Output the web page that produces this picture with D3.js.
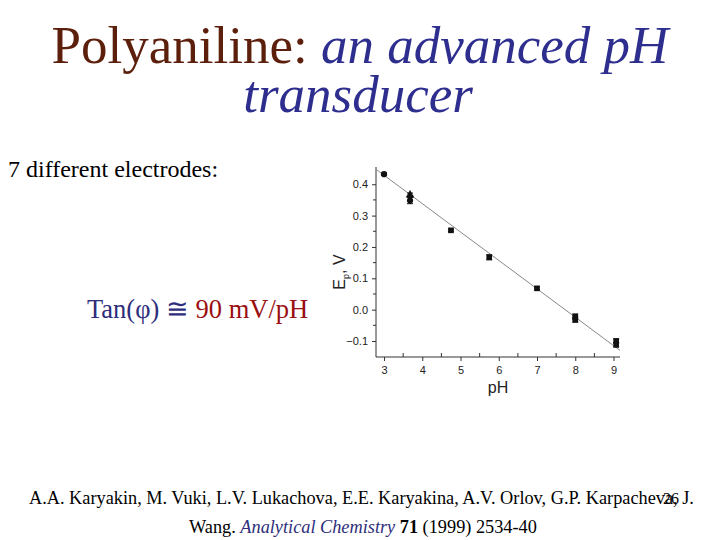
<!DOCTYPE html>
<html><head><meta charset="utf-8">
<script src="https://cdn.jsdelivr.net/npm/d3@7"></script>
<style>body{margin:0;background:#fff}svg{display:block}</style>
</head><body>
<svg id="c" width="720" height="540"></svg>
<script>
// ---- data ----
const pointPH    = [3.0, 3.68, 3.68, 4.75, 5.75, 7.0, 8.0, 8.0, 9.07, 9.07];
const pointE     = [0.432, 0.366, 0.348, 0.253, 0.167, 0.068, -0.022, -0.032, -0.100, -0.112];
const pointErr   = [0.004, 0.006, 0.010, 0.004, 0.008, 0.004, 0.008, 0.008, 0.007, 0.007];
const pointShape = ["circle","triangle","circle","square","square","square","square","square","square","square"];
const fitPH = [2.81, 9.17];
const fitE  = [0.446, -0.130];
const xTicks = [3, 4, 5, 6, 7, 8, 9];
const yTicks = [-0.1, 0.0, 0.1, 0.2, 0.3, 0.4];
const xMinorTicks = [3.5, 4.5, 5.5, 6.5, 7.5, 8.5];
const yMinorTicks = [-0.05, 0.05, 0.15, 0.25, 0.35];

const svg = d3.select("#c");
const serif = "'Liberation Serif','Times New Roman',serif";
const sans = "'Liberation Sans',Arial,sans-serif";

// ---- title ----
const t1 = svg.append("text").attr("x", 360).attr("y", 63).attr("text-anchor","middle")
  .attr("font-family", serif).attr("font-size", 53);
t1.append("tspan").attr("fill","#5c1f0c").text("Polyaniline: ");
t1.append("tspan").attr("fill","#2e2e8f").attr("font-style","italic").text("an advanced pH");
svg.append("text").attr("x", 358).attr("y", 112).attr("text-anchor","middle")
  .attr("font-family", serif).attr("font-size", 53).attr("font-style","italic")
  .attr("fill","#2e2e8f").text("transducer");

svg.append("text").attr("x", 8).attr("y", 177).attr("font-family", serif)
  .attr("font-size", 24).attr("fill","#000").text("7 different electrodes:");

const tn = svg.append("text").attr("x", 87).attr("y", 318).attr("font-family", serif).attr("font-size", 26.5);
tn.append("tspan").attr("fill","#2e2e7a").text("Tan(φ) ≅ ");
tn.append("tspan").attr("fill","#9a0f0f").text("90 mV/pH");

// ---- footer ----
const f1 = svg.append("text").attr("x", 29).attr("y", 504).attr("font-family", serif).attr("font-size", 18.3).attr("fill","#000");
f1.text("A.A. Karyakin, M. Vuki, L.V. Lukachova, E.E. Karyakina, A.V. Orlov, G.P. Karpacheva, J.");
svg.append("text").attr("x", 663).attr("y", 504).attr("font-family", serif).attr("font-size", 16).attr("fill","#000").text("26");
const f2 = svg.append("text").attr("x", 189).attr("y", 533).attr("font-family", serif).attr("font-size", 18.3).attr("fill","#000");
f2.append("tspan").text("Wang. ");
f2.append("tspan").attr("font-style","italic").attr("fill","#2e2e7a").text("Analytical Chemistry");
f2.append("tspan").attr("font-weight","bold").text(" 71");
f2.append("tspan").text(" (1999) 2534-40");

// ---- chart ----
const x = d3.scaleLinear().domain([2.79, 9.17]).range([376, 620]);
const y = d3.scaleLinear().domain([-0.151, 0.455]).range([357, 167]);
const axCol = "#333";

const gx = svg.append("g").attr("transform","translate(0,357)")
  .call(d3.axisBottom(x).tickValues(xTicks).tickFormat(d3.format("d")).tickSize(4).tickSizeOuter(0));
const gy = svg.append("g").attr("transform","translate(376,0)")
  .call(d3.axisLeft(y).tickValues(yTicks).tickFormat(d3.format(".1f")).tickSize(4).tickSizeOuter(0));
[gx, gy].forEach(g => {
  g.select(".domain").attr("stroke", axCol).attr("stroke-width", 1);
  g.selectAll(".tick line").attr("stroke", axCol);
  g.selectAll(".tick text").attr("fill","#222").attr("font-family", sans).attr("font-size", 11);
});
gx.select(".domain").attr("d", `M${x.range()[0]},0H${x.range()[1]}`);
gy.select(".domain").attr("d", `M0,${y.range()[0]}V${y.range()[1]}`);
gx.selectAll(".tick text").attr("dy","0.9em");
gy.selectAll(".tick text").attr("dx","-1");
// minor ticks (inside)
svg.append("g").selectAll("line").data(xMinorTicks).join("line")
  .attr("x1", d => x(d)).attr("x2", d => x(d)).attr("y1", 357).attr("y2", 353).attr("stroke", axCol);
svg.append("g").selectAll("line").data(yMinorTicks).join("line")
  .attr("y1", d => y(d)).attr("y2", d => y(d)).attr("x1", 376).attr("x2", 373).attr("stroke", axCol);

// axis labels
svg.append("text").attr("x", 498).attr("y", 393).attr("text-anchor","middle")
  .attr("font-family", sans).attr("font-size", 16).attr("fill","#222").text("pH");
const yl = svg.append("text").attr("transform","translate(345,272) rotate(-90)").attr("text-anchor","middle")
  .attr("font-family", sans).attr("font-size", 16).attr("fill","#222");
yl.append("tspan").text("E");
yl.append("tspan").attr("font-size", 9).attr("dy", 4).text("p");
yl.append("tspan").attr("dy", -4).text(", V");

// fit line
svg.append("line").attr("x1", x(fitPH[0])).attr("y1", y(fitE[0]))
  .attr("x2", x(fitPH[1])).attr("y2", y(fitE[1])).attr("stroke","#888").attr("stroke-width", 1);

// points
const pts = pointPH.map((p, i) => ({p, e: pointE[i], err: pointErr[i], s: pointShape[i]}));
const pg = svg.append("g");
pg.selectAll("line.err").data(pts).join("line").attr("class","err")
  .attr("x1", d => x(d.p)).attr("x2", d => x(d.p))
  .attr("y1", d => y(d.e - d.err)).attr("y2", d => y(d.e + d.err))
  .attr("stroke","#111").attr("stroke-width", 1.5);
pg.selectAll("line.capT").data(pts).join("line").attr("class","capT")
  .attr("x1", d => x(d.p) - 3).attr("x2", d => x(d.p) + 3)
  .attr("y1", d => y(d.e + d.err)).attr("y2", d => y(d.e + d.err)).attr("stroke","#111");
pg.selectAll("line.capB").data(pts).join("line").attr("class","capB")
  .attr("x1", d => x(d.p) - 3).attr("x2", d => x(d.p) + 3)
  .attr("y1", d => y(d.e - d.err)).attr("y2", d => y(d.e - d.err)).attr("stroke","#111");
const symMap = {circle: d3.symbolCircle, triangle: d3.symbolTriangle, square: d3.symbolSquare};
pg.selectAll("path.pt").data(pts).join("path").attr("class","pt")
  .attr("transform", d => `translate(${x(d.p)},${y(d.e)})`)
  .attr("d", d => d3.symbol().type(symMap[d.s]).size(d.s === "circle" ? 30 : 32)())
  .attr("fill","#111");
</script>
</body></html>
